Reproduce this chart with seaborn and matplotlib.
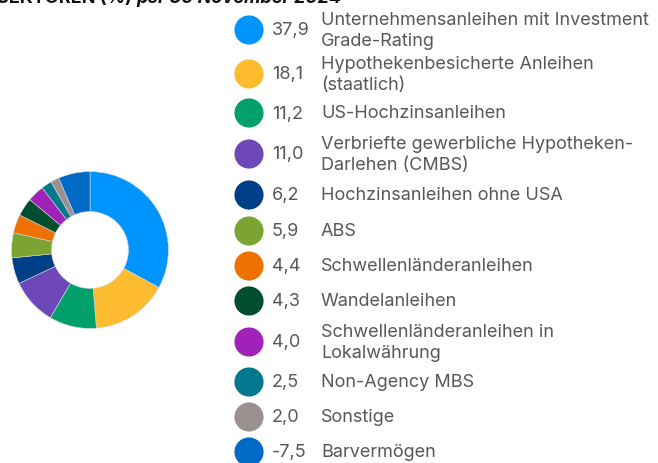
import matplotlib
matplotlib.use("Agg")
import matplotlib.pyplot as plt
import seaborn as sns
import numpy as np

# Sektorallokation (%), Stand 30. November 2024
values = [37.9, 18.1, 11.2, 11.0, 6.2, 5.9, 4.4, 4.3, 4.0, 2.5, 2.0, -7.5]
value_labels = ["37,9", "18,1", "11,2", "11,0", "6,2", "5,9", "4,4", "4,3",
                "4,0", "2,5", "2,0", "-7,5"]
categories = [
    "Unternehmensanleihen mit Investment\nGrade-Rating",
    "Hypothekenbesicherte Anleihen\n(staatlich)",
    "US-Hochzinsanleihen",
    "Verbriefte gewerbliche Hypotheken-\nDarlehen (CMBS)",
    "Hochzinsanleihen ohne USA",
    "ABS",
    "Schwellenländeranleihen",
    "Wandelanleihen",
    "Schwellenländeranleihen in\nLokalwährung",
    "Non-Agency MBS",
    "Sonstige",
    "Barvermögen",
]
colors = ["#0094FF", "#FDBB30", "#00A06B", "#6E47B9", "#003F88", "#7BA433",
          "#EE7203", "#004D2F", "#A022B8", "#00788E", "#9A9090", "#006AC6"]

sns.set_theme(style="white")
plt.rcParams["font.family"] = ["Inter", "DejaVu Sans"]
palette = sns.color_palette(colors)

W, H = 658, 464
fig = plt.figure(figsize=(W / 100, H / 100), dpi=100)

def fx(px):
    return px / W

def fy(py):
    return 1 - py / H

# donut
cx, cy, r = 90, 251, 80
ax = fig.add_axes([fx(cx - r), fy(cy + r), fx(2 * r), 2 * r / H])
sizes = np.abs(values)
ax.pie(sizes, colors=palette, startangle=90, counterclock=False,
       radius=1.0, wedgeprops=dict(width=0.51, edgecolor="#d8d8d8", linewidth=0.4))
ax.set_aspect("equal")
ax.set_xlim(-1.02, 1.02)
ax.set_ylim(-1.02, 1.02)
ax.axis("off")

# title (partly cut off at top, as in the source)
t1 = fig.text(fx(-3), fy(3), "SEKTOREN (%)", fontsize=13, fontweight="bold",
              color="#111111", va="baseline")
fig.canvas.draw()
bb = t1.get_window_extent(fig.canvas.get_renderer())
fig.text(fx(bb.x1 + 5), fy(3), "per 30 November 2024", fontsize=13,
         fontweight="bold", style="italic", color="#111111", va="baseline")

# legend
row_y = [31, 75, 114, 155, 196, 232, 267, 302, 343, 383, 418, 453]
text_col = "#585858"
lax = fig.add_axes([0, 0, 1, 1])
lax.set_xlim(0, W)
lax.set_ylim(H, 0)
lax.axis("off")
sns.scatterplot(x=[249] * len(row_y), y=row_y, hue=categories, palette=palette,
                s=440, linewidth=0, legend=False, ax=lax)
for y, v, lab in zip(row_y, value_labels, categories):
    lax.text(272, y, v, fontsize=13, color=text_col, va="center", ha="left")
    lax.text(321, y, lab, fontsize=13, color=text_col, va="center", ha="left",
             linespacing=1.37)

fig.savefig("out.png", dpi=100)
